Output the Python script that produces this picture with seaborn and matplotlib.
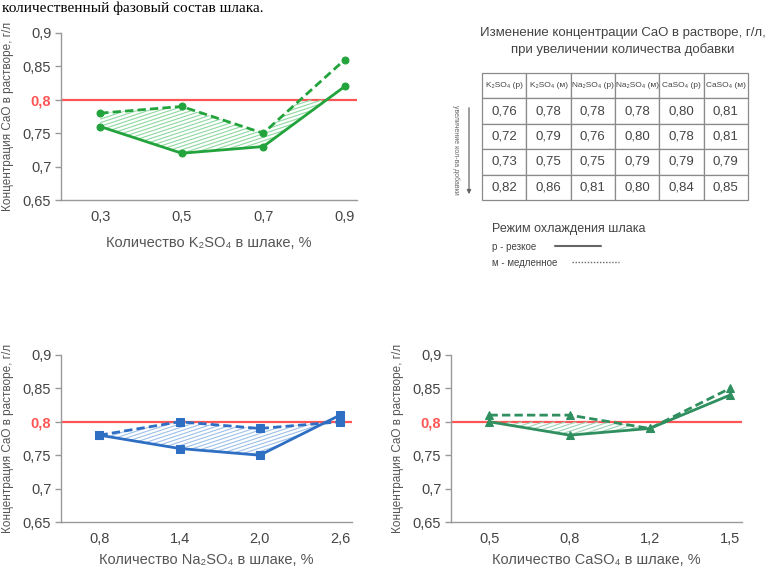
import numpy as np
import pandas as pd
import matplotlib
matplotlib.use("Agg")
from matplotlib import pyplot as plt
from matplotlib.collections import LineCollection
from matplotlib.lines import Line2D
from matplotlib.patches import FancyArrowPatch
import seaborn as sns

# doses of the additive (x tick labels)
k_doses = ["0,3", "0,5", "0,7", "0,9"]
na_doses = ["0,8", "1,4", "2,0", "2,6"]
ca_doses = ["0,5", "0,8", "1,2", "1,5"]

# CaO concentration, g/l: р - fast cooling, м - slow cooling
k_fast = [0.76, 0.72, 0.73, 0.82]
k_slow = [0.78, 0.79, 0.75, 0.86]
na_fast = [0.78, 0.76, 0.75, 0.81]
na_slow = [0.78, 0.80, 0.79, 0.80]
ca_fast = [0.80, 0.78, 0.79, 0.84]
ca_slow = [0.81, 0.81, 0.79, 0.85]

limit = 0.8
y_ticks = [0.65, 0.7, 0.75, 0.8, 0.85, 0.9]
y_ticklabels = ["0,65", "0,7", "0,75", "0,8", "0,85", "0,9"]
table_cols = ["K₂SO₄ (р)", "K₂SO₄ (м)", "Na₂SO₄ (р)",
              "Na₂SO₄ (м)", "CaSO₄ (р)", "CaSO₄ (м)"]

sns.set_theme(style="white")
plt.rcParams["font.family"] = ["Liberation Sans", "DejaVu Sans"]

W, H = 778, 570
fig = plt.figure(figsize=(W / 100, H / 100), dpi=100)


def fx(px):
    return px / W


def fy(py):
    return 1 - py / H


RED = "#ff5555"
GRAY = "#444444"


def hatch_lines(ax, fill, color):
    # shallow diagonal hatching, only below the 0.8 limit
    pos = ax.get_position()
    w_px, h_px = pos.width * W, pos.height * H
    k = 0.33 * w_px / h_px
    y_lim = (limit - 0.65) / (0.9 - 0.65)
    step = 3.6 / h_px
    segs = []
    for b in np.arange(-k, y_lim + step, step):
        x0 = max(0.0, -b / k)
        x1 = min(1.0, (y_lim - b) / k)
        if x1 > x0:
            segs.append([(x0, b + k * x0), (x1, b + k * x1)])
    lc = LineCollection(segs, colors=color, linewidths=0.8,
                        transform=ax.transAxes, zorder=2)
    ax.add_collection(lc)
    lc.set_clip_path(fill.get_paths()[0], fill.get_transform())


def draw_panel(rect, doses, fast, slow, color, hatch_color, marker, ms, xlabel, xl_y):
    ax = fig.add_axes(rect)
    df = pd.DataFrame({"pos": np.arange(len(doses)), "fast": fast, "slow": slow})
    ax.axhline(limit, color=RED, lw=1.6, zorder=1)
    fill = ax.fill_between(df["pos"], df["fast"], df["slow"], interpolate=True,
                           facecolor="none", edgecolor="none", zorder=2)
    sns.lineplot(data=df, x="pos", y="slow", ax=ax, color=color, lw=2,
                 dashes=(3, 1.5), marker=marker, markersize=ms,
                 markeredgecolor=color, zorder=3)
    sns.lineplot(data=df, x="pos", y="fast", ax=ax, color=color, lw=2,
                 linestyle="-", marker=marker, markersize=ms,
                 markeredgecolor=color, zorder=3)
    ax.set_xlim(-0.48, 3.15)
    ax.set_ylim(0.65, 0.9)
    ax.set_xticks(df["pos"])
    ax.set_xticklabels(doses)
    ax.set_yticks(y_ticks)
    ax.set_yticklabels(y_ticklabels)
    ax.tick_params(axis="x", length=0, pad=7, labelsize=10.5, labelcolor=GRAY)
    ax.tick_params(axis="y", left=True, length=4, width=1, color="#999999",
                   pad=3, labelsize=10.5, labelcolor=GRAY)
    red_lbl = ax.get_yticklabels()[3]
    red_lbl.set_color(RED)
    red_lbl.set_fontweight("bold")
    sns.despine(ax=ax)
    for s in ["left", "bottom"]:
        ax.spines[s].set_color("#999999")
        ax.spines[s].set_linewidth(1)
    ax.set_ylabel("Концентрация CaO в растворе, г/л", fontsize=8.5, color="#555555")
    ax.yaxis.set_label_coords(-0.16, 0.5)
    ax.set_xlabel(xlabel, fontsize=10.5, color="#555555")
    ax.xaxis.set_label_coords(0.5, xl_y)
    hatch_lines(ax, fill, hatch_color)
    return ax


draw_panel([fx(61), fy(200), fx(357) - fx(61), 167 / H], k_doses, k_fast, k_slow,
           "#22a33c", "#8fd8a2", "o", 5, "Количество K₂SO₄ в шлаке, %", -0.215)
draw_panel([fx(61), fy(522), fx(352) - fx(61), 167 / H], na_doses, na_fast, na_slow,
           "#2e6fc4", "#9ec0ea", "s", 5.5, "Количество Na₂SO₄ в шлаке, %", -0.185)
draw_panel([fx(451), fy(522), fx(742) - fx(451), 167 / H], ca_doses, ca_fast, ca_slow,
           "#2f8f5f", "#9fd2b6", "^", 6, "Количество CaSO₄ в шлаке, %", -0.185)

# line of the surrounding document
fig.text(fx(2), fy(12), "количественный фазовый состав шлака.", ha="left",
         va="baseline", fontsize=11, family="Liberation Serif", color="black")

# table with values
fig.text(fx(623), fy(33), "Изменение концентрации CaO в растворе, г/л,", ha="center",
         va="center", fontsize=9.5, color=GRAY)
fig.text(fx(623), fy(50), "при увеличении количества добавки", ha="center",
         va="center", fontsize=9.5, color=GRAY)

series = [k_fast, k_slow, na_fast, na_slow, ca_fast, ca_slow]
cells = [[f"{s[i]:.2f}".replace(".", ",") for s in series] for i in range(4)]
ax_t = fig.add_axes([fx(482), fy(200), fx(748) - fx(482), (200 - 73) / H])
ax_t.axis("off")
tbl = ax_t.table(cellText=cells, colLabels=table_cols, cellLoc="center",
                 bbox=[0, 0, 1, 1])
tbl.auto_set_font_size(False)
for (r, c), cell in tbl.get_celld().items():
    cell.set_edgecolor("#8a8a8a")
    cell.set_linewidth(0.9)
    if r == 0:
        cell.get_text().set_fontsize(6)
    else:
        cell.get_text().set_fontsize(9.5)
    cell.get_text().set_color(GRAY)

fig.add_artist(FancyArrowPatch(
    (fx(469), fy(105)), (fx(469), fy(197)), transform=fig.transFigure,
    arrowstyle="-|>", mutation_scale=6, color="#666666", lw=0.9))
fig.text(fx(456), fy(150), "увеличение кол-ва добавки", rotation=270, ha="center",
         va="center", fontsize=5, color="#666666")

# legend for cooling mode
fig.text(fx(492), fy(229), "Режим охлаждения шлака", fontsize=9, color=GRAY,
         va="center")
fig.text(fx(492), fy(247), "р - резкое", fontsize=7, color=GRAY, va="center")
fig.text(fx(492), fy(263), "м - медленное", fontsize=7, color=GRAY, va="center")
fig.add_artist(Line2D([fx(555), fx(601)], [fy(246), fy(246)], color="#666666",
                      lw=1.5, transform=fig.transFigure))
fig.add_artist(Line2D([fx(572), fx(619)], [fy(262), fy(262)], color="#666666",
                      lw=1, ls=(0, (1, 1.2)), transform=fig.transFigure))

fig.savefig("out.png", dpi=100)
